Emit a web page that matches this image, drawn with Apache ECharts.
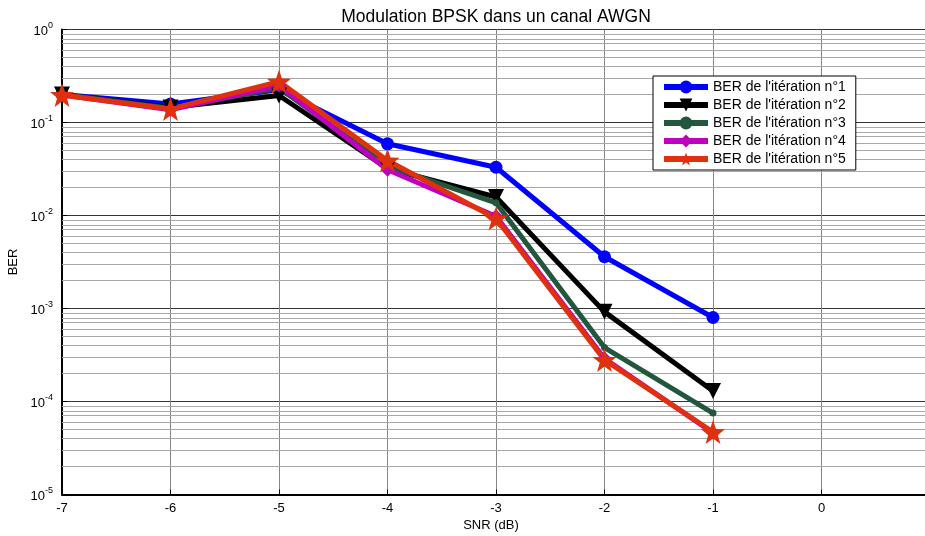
<!DOCTYPE html>
<html>
<head>
<meta charset="utf-8">
<script src="https://cdn.jsdelivr.net/npm/echarts@6/dist/echarts.min.js"></script>
<style>
  html, body { margin: 0; padding: 0; background: #fff; }
  #chart { width: 925px; height: 536px; }
</style>
</head>
<body>
<div id="chart"></div>
<script>
// SNR points (dB) and BER of each decoding iteration
const snr = [-7, -6, -5, -4, -3, -2, -1];
const ber1 = [0.2, 0.158, 0.225, 0.059, 0.033, 0.0036, 0.0008];
const ber2 = [0.2, 0.145, 0.195, 0.032, 0.0158, 0.00092, 0.00013];
const ber3 = [0.2, 0.142, 0.235, 0.034, 0.0137, 0.00038, 0.000075];
const ber4 = [0.198, 0.137, 0.25, 0.031, 0.0098, 0.00029, 0.000046];
const ber5 = [0.198, 0.14, 0.275, 0.039, 0.0093, 0.00028, 0.000047];
const seriesNames = [
  "BER de l'itération n°1",
  "BER de l'itération n°2",
  "BER de l'itération n°3",
  "BER de l'itération n°4",
  "BER de l'itération n°5"
];
// minor grid levels: 2..9 inside each decade
const decades = [-5, -4, -3, -2, -1];
const mantissas = [2, 3, 4, 5, 6, 7, 8, 9];

const FONT = 'Liberation Sans, Arial, sans-serif';

// five-pointed star symbol
function starPath() {
  const pts = [];
  for (let i = 0; i < 10; i++) {
    const r = i % 2 === 0 ? 50 : 20;
    const a = -Math.PI / 2 + i * Math.PI / 5;
    pts.push((50 + r * Math.cos(a)).toFixed(2) + ' ' + (50 + r * Math.sin(a)).toFixed(2));
  }
  return 'path://M' + pts.join(' L') + ' Z';
}
const STAR = starPath();

// minor levels expressed as exponents on a linear helper axis
const minorExponents = [];
decades.forEach(d => mantissas.forEach(m => minorExponents.push(Math.log10(m * Math.pow(10, d)))));

function pairs(ys) { return snr.map((x, i) => [x, ys[i]]); }

const chart = echarts.init(document.getElementById('chart'));
chart.setOption({
  backgroundColor: '#fff',
  animation: false,
  title: {
    text: 'Modulation BPSK dans un canal AWGN',
    left: 491, top: 3, textAlign: 'center',
    textStyle: { fontFamily: FONT, fontSize: 17.5, fontWeight: 'normal', color: '#000' }
  },
  grid: {
    left: 62, right: -5, top: 29.5, bottom: 41.5,
    outerBoundsMode: 'none', containLabel: false,
    show: true, borderColor: '#000', borderWidth: 1, backgroundColor: 'transparent'
  },
  legend: {
    orient: 'vertical', left: 653, top: 76, z: 20,
    backgroundColor: '#fff', borderColor: '#000', borderWidth: 1,
    padding: [4, 10, 4, 8], itemGap: 4, itemWidth: 44, itemHeight: 16,
    lineStyle: { width: 6 },
    textStyle: { fontFamily: FONT, fontSize: 14, color: '#000' },
    data: seriesNames
  },
  xAxis: {
    type: 'value', min: -7, max: 1, interval: 1,
    name: 'SNR (dB)', nameLocation: 'middle', nameGap: 23,
    nameTextStyle: { fontFamily: FONT, fontSize: 13, color: '#000', padding: [0, 10, 0, 0] },
    axisLine: { onZero: false, lineStyle: { color: '#000', width: 2 } },
    axisTick: { inside: true, length: 5, lineStyle: { color: '#000' } },
    axisLabel: { fontFamily: FONT, fontSize: 13, color: '#000', margin: 7 },
    splitLine: { show: true, lineStyle: { color: '#858585', width: 1 } }
  },
  yAxis: [
    {
      type: 'log', logBase: 10, min: 1e-5, max: 1,
      name: 'BER', nameLocation: 'middle', nameGap: 34, nameRotate: 90,
      nameTextStyle: { fontFamily: FONT, fontSize: 13, color: '#000' },
      axisLine: { onZero: false, lineStyle: { color: '#000', width: 2 } },
      axisTick: { inside: true, length: 5, lineStyle: { color: '#000' } },
      axisLabel: {
        margin: 9,
        formatter: v => '{b|10}{e|' + Math.round(Math.log10(v)) + '}',
        rich: {
          b: { fontFamily: FONT, fontSize: 13, color: '#000', padding: [4, 0, 0, 0] },
          e: { fontFamily: FONT, fontSize: 9, color: '#000', padding: [0, 0, 8, 0] }
        }
      },
      splitLine: { show: true, lineStyle: { color: '#333', width: 1 } }
    },
    {
      // helper axis in exponent units for the minor grid
      type: 'value', min: -5, max: 0, show: false,
      splitLine: { show: false }
    }
  ],
  series: [
    {
      name: '_minor', type: 'line', yAxisIndex: 1, data: [], silent: true, z: 1,
      markLine: {
        silent: true, symbol: 'none', label: { show: false }, z: 1,
        lineStyle: { color: '#a8a8a8', width: 1, type: 'solid' },
        data: minorExponents.map(v => ({ yAxis: v }))
      }
    },
    {
      name: seriesNames[0], type: 'line', data: pairs(ber1),
      lineStyle: { color: '#0000ff', width: 5 }, itemStyle: { color: '#0000ff' },
      symbol: 'circle', symbolSize: 13
    },
    {
      name: seriesNames[1], type: 'line', data: pairs(ber2),
      lineStyle: { color: '#000000', width: 5 }, itemStyle: { color: '#000000' },
      symbol: 'triangle', symbolRotate: 180, symbolSize: 16
    },
    {
      name: seriesNames[2], type: 'line', data: pairs(ber3),
      lineStyle: { color: '#22573d', width: 5 }, itemStyle: { color: '#22573d' },
      symbol: 'circle', symbolSize: 7
    },
    {
      name: seriesNames[3], type: 'line', data: pairs(ber4),
      lineStyle: { color: '#c000c0', width: 5 }, itemStyle: { color: '#c000c0' },
      symbol: 'diamond', symbolSize: 14
    },
    {
      name: seriesNames[4], type: 'line', data: pairs(ber5),
      lineStyle: { color: '#e0300e', width: 5 }, itemStyle: { color: '#e0300e' },
      symbol: STAR, symbolSize: 24
    }
  ]
});
</script>
</body>
</html>
